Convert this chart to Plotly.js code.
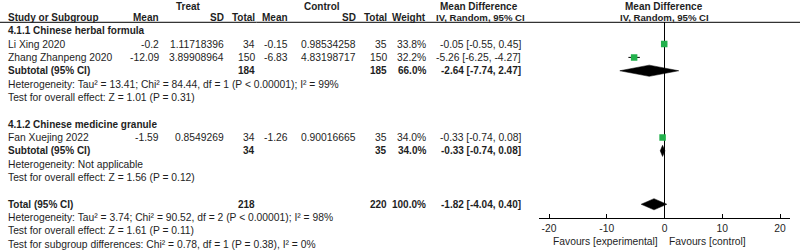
<!DOCTYPE html>
<html>
<head>
<meta charset="utf-8">
<script src="https://cdn.plot.ly/plotly-3.0.1.min.js"></script>
<style>
  html, body { margin: 0; padding: 0; background: #fff; }
  #chart { width: 800px; height: 252px; }
</style>
</head>
<body>
<div id="chart"></div>
<script>
// ---- data ----
const studies   = ["Li Xing 2020", "Zhang Zhanpeng 2020", "Fan Xuejing 2022"];
const studyRows = [1, 2, 8];
const treatMean = ["-0.2", "-12.09", "-1.59"];
const treatSD   = ["1.11718396", "3.89908964", "0.8549269"];
const treatN    = [34, 150, 34];
const ctrlMean  = ["-0.15", "-6.83", "-1.26"];
const ctrlSD    = ["0.98534258", "4.83198717", "0.90016665"];
const ctrlN     = [35, 150, 35];
const weights   = [33.8, 32.2, 34.0];
const md        = [-0.05, -5.26, -0.33];
const mdLo      = [-0.55, -6.25, -0.74];
const mdHi      = [0.45, -4.27, 0.08];

const subgroups   = ["4.1.1 Chinese herbal formula", "4.1.2 Chinese medicine granule"];
const subHeadRows = [0, 7];
const subRows     = [3, 9];
const subTreatN   = [184, 34];
const subCtrlN    = [185, 35];
const subWeight   = [66.0, 34.0];
const subMD       = [-2.64, -0.33];
const subLo       = [-7.74, -0.74];
const subHi       = [2.47, 0.08];
const subHet      = ["Heterogeneity: Tau² = 13.41; Chi² = 84.44, df = 1 (P < 0.00001); I² = 99%",
                     "Heterogeneity: Not applicable"];
const subTest     = ["Test for overall effect: Z = 1.01 (P = 0.31)",
                     "Test for overall effect: Z = 1.56 (P = 0.12)"];

const totalRow    = 13;
const totalTreatN = 218;
const totalCtrlN  = 220;
const totalWeight = 100.0;
const totalMD     = -1.82;
const totalLo     = -4.04;
const totalHi     = 0.40;
const totalNotes  = ["Heterogeneity: Tau² = 3.74; Chi² = 90.52, df = 2 (P < 0.00001); I² = 98%",
                     "Test for overall effect: Z = 1.61 (P = 0.11)",
                     "Test for subgroup differences: Chi² = 0.78, df = 1 (P = 0.38), I² = 0%"];

const tickVals  = [-20, -10, 0, 10, 20];
const tickText  = ["-20", "-10", "0", "10", "20"];
const favours   = ["Favours [experimental]", "Favours [control]"];

// ---- layout helpers ----
const W = 800, H = 252;
const ROW0 = 30.7, ROWH = 13.35;      // pixel y of row 0, row height
const AX_TOP = 22.3, AX_BOT = 218.3;  // header rule / axis line pixel y
const FONT = "Liberation Sans, Arial, sans-serif";
const TXT = "#1e1e1e";
const FS = 10.3, FSB = 10;

function py(k) { return k === -2 ? 6 : ROW0 + ROWH * k; }
function rowPaper(k) { return 1 - py(k) / H; }

const annotations = [];
function txt(s, xpx, k, anchor, bold, size) {
  annotations.push({
    xref: "paper", yref: "paper",
    x: xpx / W, y: rowPaper(k),
    xanchor: anchor, yanchor: "middle",
    text: bold ? "<b>" + s + "</b>" : s,
    showarrow: false,
    font: { family: FONT, size: size || (bold ? FSB : FS), color: TXT },
    borderpad: 0
  });
}

const X = { label: 6.5, tMean: 160, tSD: 225, tN: 256, cMean: 289, cSD: 357, cN: 388, w: 427, ci: 522,
            treat: 188, ctrl: 322, md1: 479, md2: 664 };
const ciStr = (m, l, h) => m.toFixed(2) + " [" + l.toFixed(2) + ", " + h.toFixed(2) + "]";

// headers
txt("Treat", X.treat, -2, "center", true);
txt("Control", X.ctrl, -2, "center", true);
txt("Mean Difference", X.md1, -2, "center", true);
txt("Mean Difference", X.md2, -2, "center", true);
txt("Study or Subgroup", X.label, -1, "left", true);
txt("Mean", X.tMean, -1, "right", true);
txt("SD", X.tSD, -1, "right", true);
txt("Total", X.tN, -1, "right", true);
txt("Mean", X.cMean, -1, "right", true);
txt("SD", X.cSD, -1, "right", true);
txt("Total", X.cN, -1, "right", true);
txt("Weight", X.w, -1, "right", true);
txt("IV, Random, 95% CI", X.md1 + 1, -1, "center", true, 9.6);
txt("IV, Random, 95% CI", X.md2, -1, "center", true, 9.6);

// studies
studies.forEach((s, i) => {
  const k = studyRows[i];
  txt(s, X.label, k, "left", false);
  txt(treatMean[i], X.tMean, k, "right", false);
  txt(treatSD[i], X.tSD, k, "right", false);
  txt(String(treatN[i]), X.tN, k, "right", false);
  txt(ctrlMean[i], X.cMean, k, "right", false);
  txt(ctrlSD[i], X.cSD, k, "right", false);
  txt(String(ctrlN[i]), X.cN, k, "right", false);
  txt(weights[i].toFixed(1) + "%", X.w, k, "right", false);
  txt(ciStr(md[i], mdLo[i], mdHi[i]), X.ci, k, "right", false);
});

// subgroups
subgroups.forEach((s, i) => {
  txt(s, X.label, subHeadRows[i], "left", true);
  const k = subRows[i];
  txt("Subtotal (95% CI)", X.label, k, "left", true);
  txt(String(subTreatN[i]), X.tN, k, "right", true);
  txt(String(subCtrlN[i]), X.cN, k, "right", true);
  txt(subWeight[i].toFixed(1) + "%", X.w, k, "right", true);
  txt(ciStr(subMD[i], subLo[i], subHi[i]), X.ci, k, "right", true);
  txt(subHet[i], X.label, k + 1, "left", false);
  txt(subTest[i], X.label, k + 2, "left", false);
});

// total
txt("Total (95% CI)", X.label, totalRow, "left", true);
txt(String(totalTreatN), X.tN, totalRow, "right", true);
txt(String(totalCtrlN), X.cN, totalRow, "right", true);
txt(totalWeight.toFixed(1) + "%", X.w, totalRow, "right", true);
txt(ciStr(totalMD, totalLo, totalHi), X.ci, totalRow, "right", true);
totalNotes.forEach((s, j) => txt(s, X.label, totalRow + 1 + j, "left", false));

// favours
annotations.push({ xref: "paper", yref: "paper", x: 659 / W, y: 1 - 241 / H, xanchor: "right", yanchor: "middle",
  text: favours[0], showarrow: false, borderpad: 0, font: { family: FONT, size: FS, color: TXT } });
annotations.push({ xref: "paper", yref: "paper", x: 668 / W, y: 1 - 241 / H, xanchor: "left", yanchor: "middle",
  text: favours[1], showarrow: false, borderpad: 0, font: { family: FONT, size: FS, color: TXT } });

// ---- traces ----
const traces = [];
traces.push({
  type: "scatter", mode: "markers",
  x: md, y: studyRows,
  marker: { symbol: "square", size: 6.5, color: "#22b14c", line: { width: 0 } },
  error_x: { type: "data", symmetric: false,
             array: md.map((m, i) => mdHi[i] - m),
             arrayminus: md.map((m, i) => m - mdLo[i]),
             color: "#000", thickness: 1, width: 0 },
  hoverinfo: "skip"
});

const DH = 0.42;
function diamond(m, l, h, k) {
  traces.push({
    type: "scatter", mode: "lines", fill: "toself",
    x: [l, m, h, m, l], y: [k, k - DH, k, k + DH, k],
    line: { color: "#000", width: 0.5 }, fillcolor: "#000", hoverinfo: "skip"
  });
}
subMD.forEach((m, i) => diamond(m, subLo[i], subHi[i], subRows[i]));
diamond(totalMD, totalLo, totalHi, totalRow);

// ---- layout ----
const kTop = (AX_TOP - ROW0) / ROWH, kBot = (AX_BOT - ROW0) / ROWH;
const unitPx = 5.775, zeroPx = 664.5, xr = 21.7;
const layout = {
  width: W, height: H,
  margin: { l: 0, r: 0, t: 0, b: 0, pad: 0 },
  paper_bgcolor: "#fff", plot_bgcolor: "#fff",
  showlegend: false,
  xaxis: {
    domain: [(zeroPx - xr * unitPx) / W, (zeroPx + xr * unitPx) / W],
    range: [-xr, xr],
    showgrid: false,
    zeroline: true, zerolinecolor: "#000", zerolinewidth: 1,
    showline: true, linecolor: "#000", linewidth: 1,
    ticks: "inside", ticklen: 4, tickcolor: "#000", tickwidth: 1,
    tickvals: tickVals, ticktext: tickText,
    tickfont: { family: FONT, size: FS, color: TXT },
    fixedrange: true
  },
  yaxis: {
    domain: [1 - AX_BOT / H, 1 - AX_TOP / H],
    range: [kBot, kTop],
    visible: false, showgrid: false, zeroline: false,
    fixedrange: true
  },
  shapes: [{
    type: "line", xref: "paper", yref: "paper",
    x0: 0, x1: 1, y0: 1 - AX_TOP / H, y1: 1 - AX_TOP / H,
    line: { color: "#000", width: 1 }
  }],
  annotations: annotations
};

Plotly.newPlot("chart", traces, layout, { staticPlot: true, displayModeBar: false });
</script>
</body>
</html>
